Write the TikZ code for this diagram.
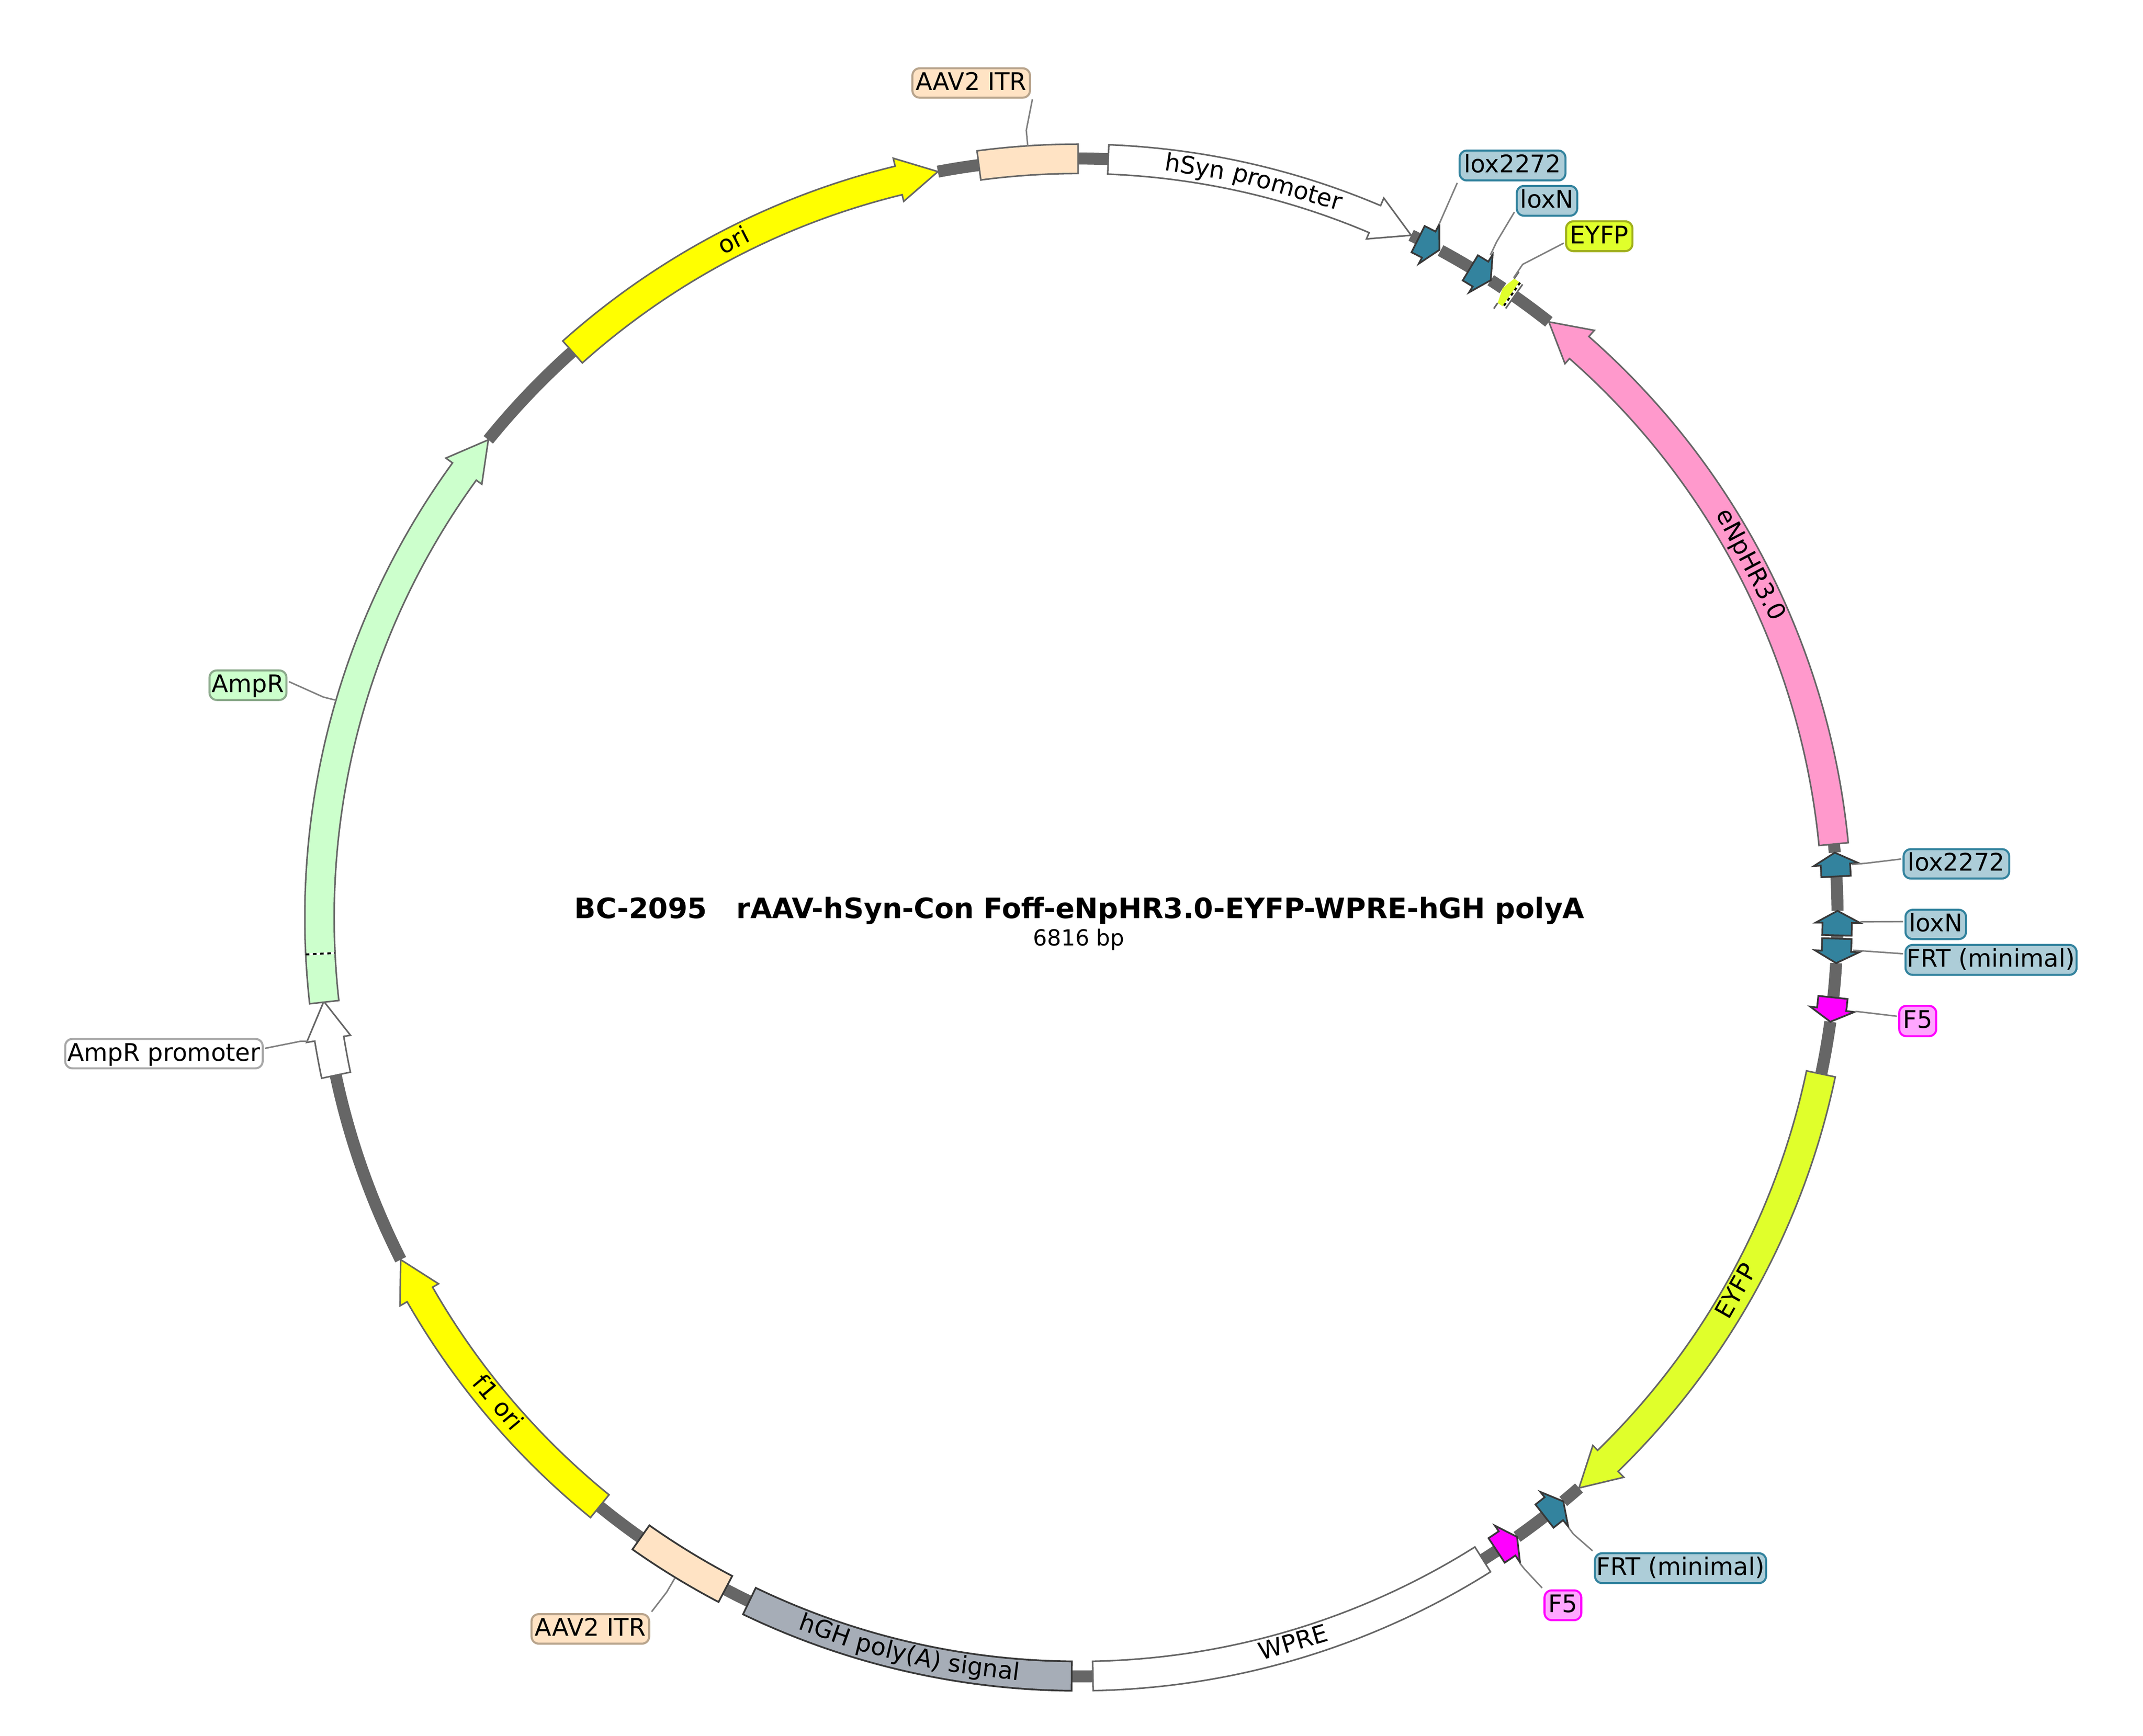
\documentclass[tikz,border=0pt]{standalone}
\usepackage{fontspec}
\setmainfont{DejaVu Sans}
\definecolor{bbc}{RGB}{102,102,102}
\definecolor{outl}{RGB}{102,102,102}
\definecolor{outd}{RGB}{56,56,56}
\definecolor{leadc}{RGB}{128,128,128}
\definecolor{pinkf}{RGB}{255,153,204}
\definecolor{eyfpf}{RGB}{224,255,43}
\definecolor{eyfpb}{RGB}{160,176,28}
\definecolor{itrf}{RGB}{255,227,196}
\definecolor{itrb}{RGB}{184,164,140}
\definecolor{loxf}{RGB}{51,131,158}
\definecolor{loxl}{RGB}{173,205,216}
\definecolor{magf}{RGB}{255,0,255}
\definecolor{magl}{RGB}{255,166,255}
\definecolor{yelf}{RGB}{255,255,0}
\definecolor{ampf}{RGB}{204,255,204}
\definecolor{ampb}{RGB}{140,170,140}
\definecolor{hghf}{RGB}{166,173,183}
\definecolor{whb}{RGB}{168,168,168}
\newcommand{\lfont}{\fontsize{10.1}{12}\selectfont}
\newcommand{\bbseg}[2]{\draw[bbone] ({#1-90}:555.5) arc[start angle={#1-90},end angle={#2-90},radius=555.5];}
\newcommand{\recfeat}[4][feat]{\draw[#1,fill=#4] ({#2-90}:566) arc[start angle={#2-90},end angle={#3-90},radius=566] -- ({#3-90}:544.5) arc[start angle={#3-90},end angle={#2-90},radius=544.5] -- cycle;}
\newcommand{\arrfeat}[5][feat]{\draw[#1,fill=#5] ({#2-90}:566) arc[start angle={#2-90},end angle={#3-90},radius=566] -- ({#3-90}:572) -- ({#4-90}:555.5) -- ({#3-90}:539.5) -- ({#3-90}:544.5) arc[start angle={#3-90},end angle={#2-90},radius=544.5] -- cycle;}
\newcommand{\labelbox}[8]{\node[lbox,fill=#6,draw=#7,minimum width={(#4-#2)*0.02cm},minimum height={(#5-#3)*0.02cm}] (#1) at ({(#2+#4)/2},{(#3+#5)/2}) {\lfont #8};}
% word on the ring: name, clockwise angle from top, baseline radius, rotation, text
\newcommand{\ringword}[5]{\node[anchor=base,inner sep=0pt,rotate=#4] (#1) at ({#2-90}:#3) {\lfont #5};}
\tikzset{
 bbone/.style={draw=bbc,line width=5pt},
 feat/.style={draw=outl,line width=0.65pt,line join=miter,miter limit=20},
 featd/.style={draw=outd,line width=0.72pt,line join=miter,miter limit=20},
 leader/.style={draw=leadc,line width=0.62pt},
 lbox/.style={rounded corners=3pt,line width=0.85pt,inner sep=0pt,outer sep=1pt,text height=7pt,text depth=1pt,align=center}
}
\begin{document}
\begin{tikzpicture}[x=0.02cm,y=-0.02cm]
\useasboundingbox (0,0) rectangle (1568,1270.6);
\begin{scope}[shift={(789,671.5)}]
% backbone
\bbseg{-0.02}{2.26}\bbseg{26.0}{26.7}\bbseg{28.5}{31.1}\bbseg{32.9}{34.0}\bbseg{35.05}{38.3}
\bbseg{84.45}{85.1}\bbseg{86.9}{89.5}\bbseg{91.3}{91.6}\bbseg{93.45}{96.05}\bbseg{97.9}{101.9}
\bbseg{138.74}{140.3}\bbseg{142.1}{144.7}\bbseg{146.55}{147.8}\bbseg{178.9}{180.5}
\bbseg{-154.31}{-152.28}\bbseg{-144.8}{-140.9}\bbseg{-116.8}{-102}\bbseg{-51}{-41.8}\bbseg{-10.66}{-7.53}
% features
\recfeat{-7.53}{-0.02}{itrf}
\arrfeat{2.26}{23}{26}{white}
\arrfeat[featd]{26.6}{27.5}{28.4}{loxf}
\arrfeat[featd]{31.1}{32}{32.9}{loxf}
% tiny EYFP piece
\fill[eyfpf] ({34.9-90}:566) -- ({34.3-90}:566) -- ({33.98-90}:555.5) -- ({34.3-90}:544.5) -- ({34.9-90}:544.5) -- cycle;
\draw[feat] ({34.3-90}:566) -- ({34.3-90}:572);
\draw[feat] ({34.3-90}:544.5) -- ({34.3-90}:539.5);
\draw[feat] ({35.05-90}:566) -- ({35.05-90}:544.5);
\draw[white,line width=0.8pt] ({34.82-90}:566) -- ({34.82-90}:544.5);
\draw[black,line width=0.8pt,dash pattern=on 1.3pt off 1.3pt] ({34.82-90}:566) -- ({34.82-90}:544.5);
\arrfeat{84.45}{41.3}{38.3}{pinkf}
\arrfeat[featd]{86.9}{86}{85.1}{loxf}
\arrfeat[featd]{91.35}{90.4}{89.5}{loxf}
\arrfeat[featd]{91.6}{92.55}{93.45}{loxf}
\arrfeat[featd]{96.05}{96.95}{97.9}{magf}
\arrfeat{101.9}{135.75}{138.74}{eyfpf}
\arrfeat[featd]{142.1}{141.2}{140.3}{loxf}
\arrfeat[featd]{146.55}{145.6}{144.7}{magf}
\recfeat{147.8}{178.9}{white}
\recfeat[featd]{-179.5}{-154.31}{hghf}
\recfeat[featd]{-152.28}{-144.8}{itrf}
\arrfeat{-140.9}{-119.8}{-116.8}{yelf}
\arrfeat{-102}{-99.2}{-96.35}{white}
\arrfeat{-96.41}{-54}{-51}{ampf}
\draw[white,line width=0.8pt] ({-92.74-90}:566) -- ({-92.74-90}:544.5);
\draw[black,line width=0.8pt,dash pattern=on 1.5pt off 1.5pt] ({-92.74-90}:566) -- ({-92.74-90}:544.5);
\arrfeat{-41.8}{-13.7}{-10.66}{yelf}
% texts on the ring
\ringword{tHsyn}{8.83}{550}{-8.83}{hSyn}
\ringword{tProm}{15.98}{550}{-15.98}{promoter}
\ringword{tOri}{-27}{550}{27}{ori}
\ringword{tHalo}{62.3}{550}{-62.3}{eNpHR3.0}
\ringword{tEyfp}{119.6}{559.5}{60.4}{EYFP}
\ringword{tFori}{-129.9}{559.5}{-50.1}{f1 ori}
\ringword{tHgh}{-160.44}{559.5}{-19.56}{hGH}
\ringword{tPoly}{-166.27}{559.5}{-13.73}{poly(A)}
\ringword{tSig}{-172.84}{559.5}{-7.16}{signal}
\ringword{tWpre}{163.5}{559.5}{16.5}{WPRE}
\end{scope}
% labels
\labelbox{lITRt}{667.6}{50}{753.6}{71.5}{itrf}{itrb}{AAV2 ITR}
\labelbox{lLoxT}{1068}{110.2}{1145.4}{132.1}{loxl}{loxf}{lox2272}
\labelbox{lLoxNT}{1109.8}{136.1}{1154}{157.9}{loxl}{loxf}{loxN}
\labelbox{lEyfp}{1145.9}{162}{1194.4}{183.8}{eyfpf}{eyfpb}{EYFP}
\labelbox{lLoxR}{1392.8}{621.5}{1470.1}{643}{loxl}{loxf}{lox2272}
\labelbox{lLoxNR}{1394.2}{665.9}{1438.5}{687.3}{loxl}{loxf}{loxN}
\labelbox{lFrtR}{1394.2}{691.6}{1519.4}{713.5}{loxl}{loxf}{FRT (minimal)}
\labelbox{lF5R}{1389.6}{736.2}{1416.7}{758.4}{magl}{magf}{F5}
\labelbox{lFrtB}{1167}{1136.8}{1292.2}{1158.7}{loxl}{loxf}{FRT (minimal)}
\labelbox{lF5B}{1130.1}{1164}{1157}{1185.8}{magl}{magf}{F5}
\labelbox{lITRb}{388.9}{1181.4}{475}{1203}{itrf}{itrb}{AAV2 ITR}
\labelbox{lProm}{47.7}{760.4}{192.2}{781.9}{white}{whb}{AmpR promoter}
\labelbox{lAmp}{153.3}{490.7}{209.6}{512.3}{ampf}{ampb}{AmpR}
% leader end points
\coordinate (eITRt) at (752,106.9); \coordinate (kITRt) at (750.9,95.4);
\coordinate (eLoxT) at (1052.9,164.2);
\coordinate (eLoxNT) at (1090.5,186.6); \coordinate (kLoxNT) at (1095.1,176.9);
\coordinate (eEyfp) at (1107.5,203.3); \coordinate (kEyfp) at (1114.1,193.5);
\coordinate (eLoxR) at (1355,632.7); \coordinate (kLoxR) at (1365.5,631.8);
\coordinate (eLoxNR) at (1361.1,674.7);
\coordinate (eFrtR) at (1355.9,695.5);
\coordinate (eF5R) at (1357.6,740.2);
\coordinate (eFrtB) at (1147.7,1118); \coordinate (kFrtB) at (1151.2,1122.8);
\coordinate (eF5B) at (1112,1144.1); \coordinate (kF5B) at (1115.7,1148.7);
\coordinate (eITRb) at (493.8,1155); \coordinate (kITRb) at (487.8,1165.3);
\coordinate (eProm) at (225.2,762.1); \coordinate (kProm) at (220,762.1);
\coordinate (eAmp) at (245.8,512.5); \coordinate (kAmp) at (236.6,510.2);
\draw[leader] (lITRt.-15) -- (kITRt) -- (eITRt);
\draw[leader] (lLoxT.south west) -- (eLoxT);
\draw[leader] (lLoxNT.199) -- (kLoxNT) -- (eLoxNT);
\draw[leader] (lEyfp.191) -- (kEyfp) -- (eEyfp);
\draw[leader] (lLoxR.175) -- (kLoxR) -- (eLoxR);
\draw[leader] (lLoxNR.175.6) -- (eLoxNR);
\draw[leader] (lFrtR.176) -- (eFrtR);
\draw[leader] (lF5R.167) -- (eF5R);
\draw[leader] (lFrtB.north west) -- (kFrtB) -- (eFrtB);
\draw[leader] (lF5B.north west) -- (kF5B) -- (eF5B);
\draw[leader] (lITRb.north east) -- (kITRb) -- (eITRb);
\draw[leader] (lProm.3.4) -- (kProm) -- (eProm);
\draw[leader] (lAmp.5) -- (kAmp) -- (eAmp);
% centre
\node[anchor=base,inner sep=0pt] (title) at (789.8,672) {\fontsize{11.72}{13}\selectfont\bfseries BC-2095\ \ \ rAAV-hSyn-Con Foff-eNpHR3.0-EYFP-WPRE-hGH polyA};
\node[anchor=base,inner sep=0pt] (size) at (789.4,692) {\fontsize{9.2}{11}\selectfont 6816 bp};
\end{tikzpicture}
\end{document}
